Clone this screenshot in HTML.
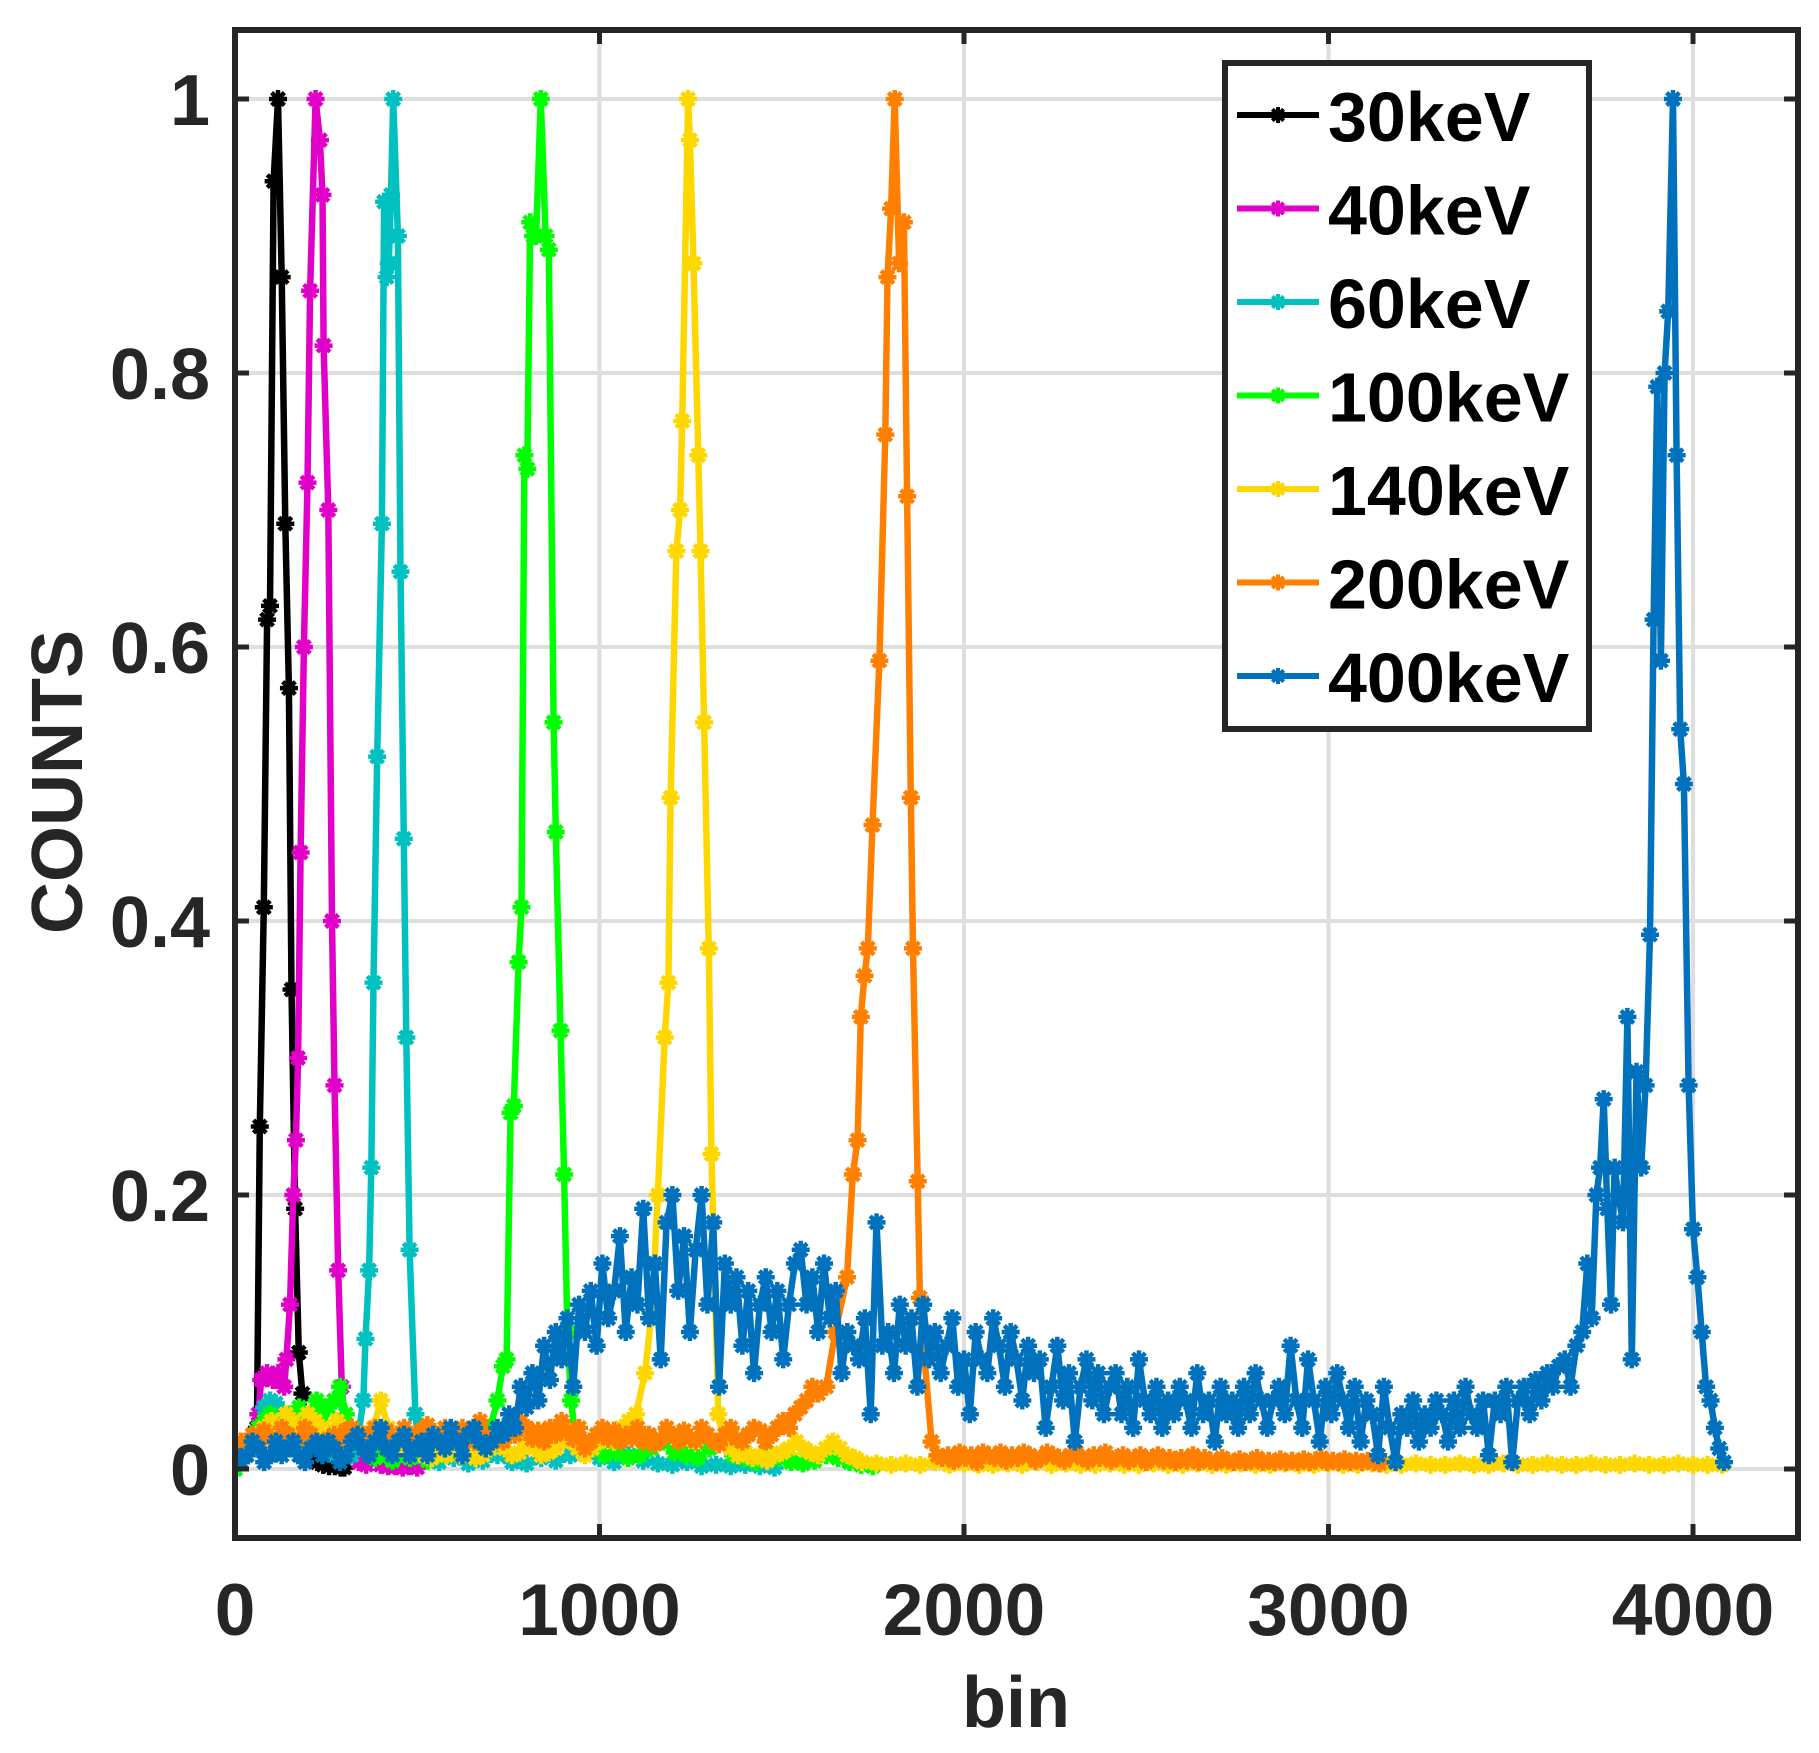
<!DOCTYPE html>
<html><head><meta charset="utf-8"><style>
html,body{margin:0;padding:0;background:#fff;}
svg{display:block;font-family:"Liberation Sans",Arial,sans-serif;font-weight:bold;}
</style></head><body>
<svg id="chart" width="1819" height="1753" viewBox="0 0 1819 1753" xmlns="http://www.w3.org/2000/svg">
<defs><clipPath id="plotclip"><rect x="235" y="30" width="1563" height="1508"/></clipPath></defs>
<rect x="0" y="0" width="1819" height="1753" fill="#fff"/>
<g id="grid"></g>
<g id="series" clip-path="url(#plotclip)"></g>
<g id="axes"></g>
<g id="legend"></g>
</svg>
<script>
// ---- axis data ----
const xTicks = [0, 1000, 2000, 3000, 4000];
const xTickLabels = ["0", "1000", "2000", "3000", "4000"];
const yTicks = [0, 0.2, 0.4, 0.6, 0.8, 1];
const yTickLabels = ["0", "0.2", "0.4", "0.6", "0.8", "1"];
const seriesNames = ["30keV", "40keV", "60keV", "100keV", "140keV", "200keV", "400keV"];
const seriesColors = ["#000000", "#e000c8", "#00c0c0", "#00ff00", "#ffd700", "#ff8000", "#0072bd"];

// ---- 30 keV ----
const k30X = [0,16,32,48,60,68,79,88,96,106,118,128,138,148,155,165,175,185,195,210,226,242,258,274,290,300];
const k30Y = [0.005,0.01,0.01,0.02,0.03,0.25,0.41,0.62,0.63,0.94,1.0,0.87,0.69,0.57,0.35,0.19,0.085,0.055,0.03,0.01,0.005,0.003,0.002,0.002,0.001,0.001];

// ---- 40 keV ----
const k40X = [0,16,32,48,64,72,88,104,119,135,141,151,160,167,173,180,189,199,206,221,233,240,243,256,266,273,283,293,305,320,340,360,380,400,420,440,460,480,500];
const k40Y = [0,0.005,0.01,0.02,0.04,0.065,0.07,0.065,0.07,0.06,0.08,0.12,0.2,0.24,0.3,0.45,0.6,0.72,0.86,1.0,0.97,0.93,0.82,0.7,0.4,0.28,0.145,0.06,0.02,0.01,0.005,0.003,0.01,0.003,0.002,0.002,0.001,0.002,0.001];

// ---- 60 keV ----
const k60X = [0,16,32,48,64,80,96,112,128,144,160,176,192,208,224,240,256,272,288,304,320,336,352,358,368,374,380,390,403,409,416,422,428,434,447,454,463,470,479,495,507];
const k60Y = [0,0.005,0.01,0.015,0.03,0.045,0.05,0.048,0.04,0.035,0.03,0.025,0.02,0.03,0.02,0.015,0.02,0.01,0.015,0.01,0.01,0.02,0.05,0.095,0.145,0.22,0.355,0.52,0.69,0.925,0.87,0.88,0.93,1.0,0.9,0.655,0.46,0.315,0.16,0.04,0.01];
const k60TailStart = 520, k60TailStep = 40;
const k60TailY = [0.01,0.005,0.008,0.004,0.006,0.01,0.005,0.004,0.008,0.006,0.01,0.012,0.008,0.005,0.01,0.006,0.004,0.003,0.005,0.002,0.003,0.002,0.003,0.002,0.001];

// ---- 100 keV ----
const k100BaseStart = 0, k100BaseStep = 16;
const k100BaseY = [0,0.005,0.01,0.02,0.03,0.035,0.04,0.03,0.035,0.04,0.03,0.045,0.035,0.04,0.05,0.035,0.045,0.05,0.06,0.04,0.03,0.02,0.015,0.01,0.008,0.012,0.01,0.006,0.01,0.015,0.008,0.01,0.012,0.006,0.01,0.015,0.01,0.012,0.015,0.02,0.015,0.02,0.025,0.03];
const k100X = [700,720,735,745,756,765,778,786,794,802,810,818,826,839,852,861,874,880,893,903,912,922,935];
const k100Y = [0.03,0.05,0.075,0.08,0.26,0.265,0.37,0.41,0.74,0.73,0.91,0.9,0.9,1.0,0.9,0.89,0.545,0.465,0.32,0.215,0.1,0.05,0.02];
const k100TailStart = 950, k100TailStep = 32;
const k100TailY = [0.02,0.015,0.01,0.012,0.008,0.01,0.015,0.02,0.012,0.01,0.008,0.015,0.02,0.01,0.008,0.005,0.01,0.008,0.005,0.004,0.006,0.01,0.008,0.005,0.003,0.002];

// ---- 140 keV ----
const k140BaseStart = 0, k140BaseStep = 20;
const k140BaseY = [0.005,0.01,0.015,0.02,0.03,0.035,0.03,0.04,0.035,0.03,0.04,0.035,0.03,0.025,0.035,0.02,0.03,0.025,0.02,0.03,0.05,0.03,0.02,0.015,0.01,0.015,0.01,0.008,0.012,0.01,0.015,0.01,0.012,0.008,0.01,0.015,0.02,0.015,0.01,0.012,0.02,0.015,0.01,0.012,0.015,0.02,0.025,0.015,0.01,0.015,0.02,0.025,0.02,0.03,0.035,0.04];
const k140X = [1125,1145,1160,1179,1189,1195,1211,1221,1227,1243,1248,1258,1271,1277,1287,1300,1307,1326,1340];
const k140Y = [0.07,0.12,0.2,0.315,0.355,0.49,0.67,0.7,0.765,1.0,0.97,0.88,0.74,0.67,0.545,0.38,0.23,0.04,0.02];
const k140MidStart = 1360, k140MidStep = 20;
const k140MidY = [0.015,0.01,0.012,0.008,0.01,0.006,0.01,0.012,0.015,0.02,0.015,0.012,0.01,0.015,0.02,0.015,0.01,0.008];
const k140TailStart = 1720, k140TailStep = 40;
const k140TailY = [0.005,0.004,0.003,0.004,0.003,0.005,0.003,0.004,0.003,0.003,0.004,0.003,0.005,0.003,0.004,0.003,0.003,0.004,0.003,0.003,0.004,0.003,0.003,0.004,0.003,0.003,0.004,0.003,0.003,0.004,0.003,0.003,0.004,0.003,0.003,0.004,0.003,0.003,0.004,0.003,0.003,0.004,0.003,0.003,0.004,0.003,0.003,0.004,0.003,0.003,0.004,0.003,0.003,0.004,0.003,0.003,0.004,0.003,0.003,0.003];

// ---- 200 keV ----
const k200BaseStart = 0, k200BaseStep = 16;
const k200BaseY = [0.015,0.02,0.018,0.025,0.02,0.028,0.022,0.02,0.03,0.025,0.02,0.022,0.03,0.025,0.02,0.015,0.022,0.025,0.02,0.028,
0.03,0.022,0.025,0.02,0.03,0.025,0.028,0.02,0.022,0.03,0.025,0.02,0.028,0.032,0.022,0.02,0.03,0.025,0.022,0.03,
0.028,0.02,0.035,0.025,0.022,0.03,0.02,0.028,0.025,0.035,0.03,0.022,0.028,0.02,0.03,0.025,0.035,0.028,0.022,0.03,
0.015,0.02,0.025,0.03,0.022,0.028,0.02,0.025,0.022,0.03,0.02,0.025,0.018,0.022,0.03,0.025,0.02,0.028,0.022,0.02,
0.03,0.025,0.02,0.018,0.025,0.03,0.022,0.02,0.025,0.03,0.028,0.02,0.025,0.03,0.035,0.03,0.04,0.045,0.05,0.06,0.055];
const k200X = [1622,1647,1679,1695,1708,1717,1727,1736,1749,1768,1784,1790,1800,1810,1822,1835,1844,1854,1860,1873,1879,1892,1911,1927];
const k200Y = [0.06,0.1,0.14,0.215,0.24,0.33,0.36,0.38,0.47,0.59,0.755,0.87,0.92,1.0,0.88,0.91,0.71,0.49,0.38,0.21,0.125,0.08,0.02,0.01];
const k200TailStart = 1940, k200TailStep = 16;
const k200TailY = [0.008,0.01,0.006,0.012,0.008,0.01,0.005,0.012,0.01,0.008,0.012,0.006,0.01,0.008,0.012,0.01,0.006,0.008,0.012,0.01,
0.008,0.006,0.01,0.012,0.008,0.006,0.01,0.008,0.012,0.006,0.008,0.01,0.006,0.008,0.01,0.005,0.008,0.01,0.006,0.008,
0.005,0.008,0.006,0.01,0.005,0.008,0.006,0.005,0.008,0.006,0.005,0.007,0.005,0.006,0.008,0.005,0.006,0.005,0.007,0.005,
0.006,0.005,0.007,0.005,0.006,0.008,0.005,0.006,0.005,0.007,0.005,0.006,0.005,0.006,0.005,0.004];

// ---- 400 keV ----
const k400BaseStart = 0, k400BaseStep = 16;
const k400BaseY = [0.01,0.005,0.01,0.02,0.015,0.005,0.01,0.02,0.01,0.015,0.02,0.01,0.005,0.015,0.02,0.01,0.02,0.015,0.005,0.01,0.02,0.025,0.015,0.01,0.02,0.03,0.015,0.01,0.02,0.025,0.01,0.015,0.02,0.01,0.025,0.02,0.015,0.03,0.02,0.01,0.025,0.03,0.02,0.015,
0.02,0.03,0.025,0.04,0.03,0.06,0.045,0.07,0.05,0.09,0.065,0.1,0.08,0.11,0.06,0.12,
0.1,0.13,0.09,0.15,0.11,0.13,0.17,0.1,0.14,0.12,0.19,0.11,0.15,0.08,0.18,0.2,0.13,0.17,0.1,0.16,0.2,0.12,
0.18,0.06,0.15,0.12,0.14,0.09,0.13,0.07,0.12,0.14,0.1,0.13,0.08,0.12,0.15,0.16,0.12,0.14,0.1,0.15,0.11,0.13,0.07,0.1,0.09,
0.08,0.11,0.04,0.18,0.09,0.1,0.07,0.12,0.09,0.11,0.06,0.12,0.08,0.1,0.07,0.09,0.11,0.06,0.08,0.04,0.1,0.08,0.07,0.11,0.09,0.06,0.1,0.08,0.05,0.09,0.07,0.08,0.03,0.06,0.09,0.05,0.07,0.02,0.06,0.08,0.05,0.07,0.04,0.06,
0.07,0.04,0.06,0.03,0.08,0.05,0.04,0.06,0.03,0.05,0.04,0.06,0.05,0.03,0.07,0.04,0.05,0.02,0.06,0.04,0.05,0.03,0.06,0.04,0.07,0.05,0.03,0.05,0.06,0.04,0.09,0.05,0.03,0.08,0.05,0.02,0.06,0.04,0.07,0.05,0.03,0.06,0.02,0.05,0.04,0.01,0.06,0.03,0.005,0.04,0.03,0.05,0.02,0.04,0.03,0.05,0.04,0.02,0.05,0.03,0.06,0.04,0.03,0.05,0.01,0.05,0.04,0.06,0.005,0.05];
const k400X = [3536,3552,3568,3584,3600,3616,3632,3648,3664,3680,3696,3710,3722,3735,3745,3755,3765,3775,3785,3795,3808,3820,3832,3845,3858,3870,3882,3892,3902,3912,3922,3932,3945,3955,3965,3975,3988,4000,4012,4024,4036,4048,4060,4072,4085];
const k400Y = [0.06,0.04,0.065,0.05,0.07,0.06,0.075,0.08,0.06,0.09,0.1,0.15,0.11,0.2,0.22,0.27,0.19,0.12,0.22,0.2,0.18,0.33,0.08,0.29,0.22,0.28,0.39,0.62,0.79,0.59,0.8,0.845,1.0,0.74,0.54,0.5,0.28,0.175,0.14,0.1,0.06,0.05,0.03,0.015,0.005];

// ---- scales ----
const X0 = 235, XS = 0.3645, Y0 = 1469, YS = 1370;
function sx(v){ return X0 + v * XS; }
function sy(v){ return Y0 - v * YS; }
function regular(start, step, ys){ return ys.map((y,i)=>[start + i*step, y]); }
function explicit(xs, ys){ return xs.map((x,i)=>[x, ys[i]]); }

const seriesPoints = [
  explicit(k30X, k30Y),
  explicit(k40X, k40Y),
  explicit(k60X, k60Y).concat(regular(k60TailStart, k60TailStep, k60TailY)),
  regular(k100BaseStart, k100BaseStep, k100BaseY).concat(explicit(k100X, k100Y), regular(k100TailStart, k100TailStep, k100TailY)),
  regular(k140BaseStart, k140BaseStep, k140BaseY).concat(explicit(k140X, k140Y), regular(k140MidStart, k140MidStep, k140MidY), regular(k140TailStart, k140TailStep, k140TailY)),
  regular(k200BaseStart, k200BaseStep, k200BaseY).concat(explicit(k200X, k200Y), regular(k200TailStart, k200TailStep, k200TailY)),
  regular(k400BaseStart, k400BaseStep, k400BaseY).concat(explicit(k400X, k400Y))
];

const NS = "http://www.w3.org/2000/svg";
function mk(tag, attrs, parent){
  const e = document.createElementNS(NS, tag);
  for (const k in attrs) e.setAttribute(k, attrs[k]);
  parent.appendChild(e);
  return e;
}
function starPath(x, y, r){
  const d = r*0.707;
  return `M${x-r},${y}L${x+r},${y}M${x},${y-r}L${x},${y+r}M${x-d},${y-d}L${x+d},${y+d}M${x-d},${y+d}L${x+d},${y-d}`;
}

// grid
const grid = document.getElementById('grid');
xTicks.forEach((t,i)=>{
  if (t === 0) return;
  const l = mk('line', {x1:sx(t), x2:sx(t), y1:30, y2:1538, stroke:'#dedede', 'stroke-width':4}, grid);
  
  
});
yTicks.forEach((t,i)=>{
  const l = mk('line', {x1:235, x2:1798, y1:sy(t), y2:sy(t), stroke:'#dedede', 'stroke-width':4}, grid);
  
  
});

// series
const sg = document.getElementById('series');
seriesPoints.forEach((pts, si)=>{
  const g = mk('g', {}, sg);
  
  
  const col = seriesColors[si];
  const line = mk('polyline', {points: pts.map(p=>sx(p[0]).toFixed(1)+','+sy(p[1]).toFixed(1)).join(' '), fill:'none', stroke:col, 'stroke-width':6.5, 'stroke-linejoin':'round'}, g);
  
  
  let d = '';
  pts.forEach(p=>{ d += starPath(sx(p[0]), sy(p[1]), 9); });
  const m = mk('path', {d:d, fill:'none', stroke:col, 'stroke-width':4.5}, g);
  
  
});

// axes
const ax = document.getElementById('axes');
const box = mk('rect', {x:235, y:30, width:1563, height:1508, fill:'none', stroke:'#262626', 'stroke-width':6}, ax);


xTicks.forEach((t,i)=>{
  mk('line', {x1:sx(t), x2:sx(t), y1:1538, y2:1524, stroke:'#262626', 'stroke-width':5}, ax);
  mk('line', {x1:sx(t), x2:sx(t), y1:30, y2:44, stroke:'#262626', 'stroke-width':5}, ax);
  const tx = mk('text', {x:sx(t), y:1635, 'font-size':73, fill:'#262626', 'text-anchor':'middle'}, ax);
  tx.textContent = xTickLabels[i];
  
  
});
yTicks.forEach((t,i)=>{
  mk('line', {x1:235, x2:249, y1:sy(t), y2:sy(t), stroke:'#262626', 'stroke-width':5}, ax);
  mk('line', {x1:1798, x2:1784, y1:sy(t), y2:sy(t), stroke:'#262626', 'stroke-width':5}, ax);
  const tx = mk('text', {x:210, y:sy(t)+26, 'font-size':72, fill:'#262626', 'text-anchor':'end'}, ax);
  tx.textContent = yTickLabels[i];
  
  
});
const xt = mk('text', {x:1016, y:1727, 'font-size':72, fill:'#262626', 'text-anchor':'middle'}, ax);
xt.textContent = 'bin';


const yt = mk('text', {x:0, y:0, 'font-size':72, fill:'#262626', 'text-anchor':'middle', transform:'translate(82,782) rotate(-90)'}, ax);
yt.textContent = 'COUNTS';



// legend
const lg = document.getElementById('legend');
const lbox = mk('rect', {x:1225, y:63, width:364, height:666, fill:'#fff', stroke:'#262626', 'stroke-width':6}, lg);


seriesNames.forEach((n, i)=>{
  const cy = 115 + i*93.5;
  const eg = mk('g', {}, lg);
  
  
  mk('line', {x1:1237, x2:1319, y1:cy, y2:cy, stroke:seriesColors[i], 'stroke-width':6}, eg);
  mk('path', {d:starPath(1278, cy, 8), fill:'none', stroke:seriesColors[i], 'stroke-width':4}, eg);
  const t = mk('text', {x:1328, y:cy+26, 'font-size':70, fill:'#000'}, eg);
  t.textContent = n;
});
</script>
</body></html>
